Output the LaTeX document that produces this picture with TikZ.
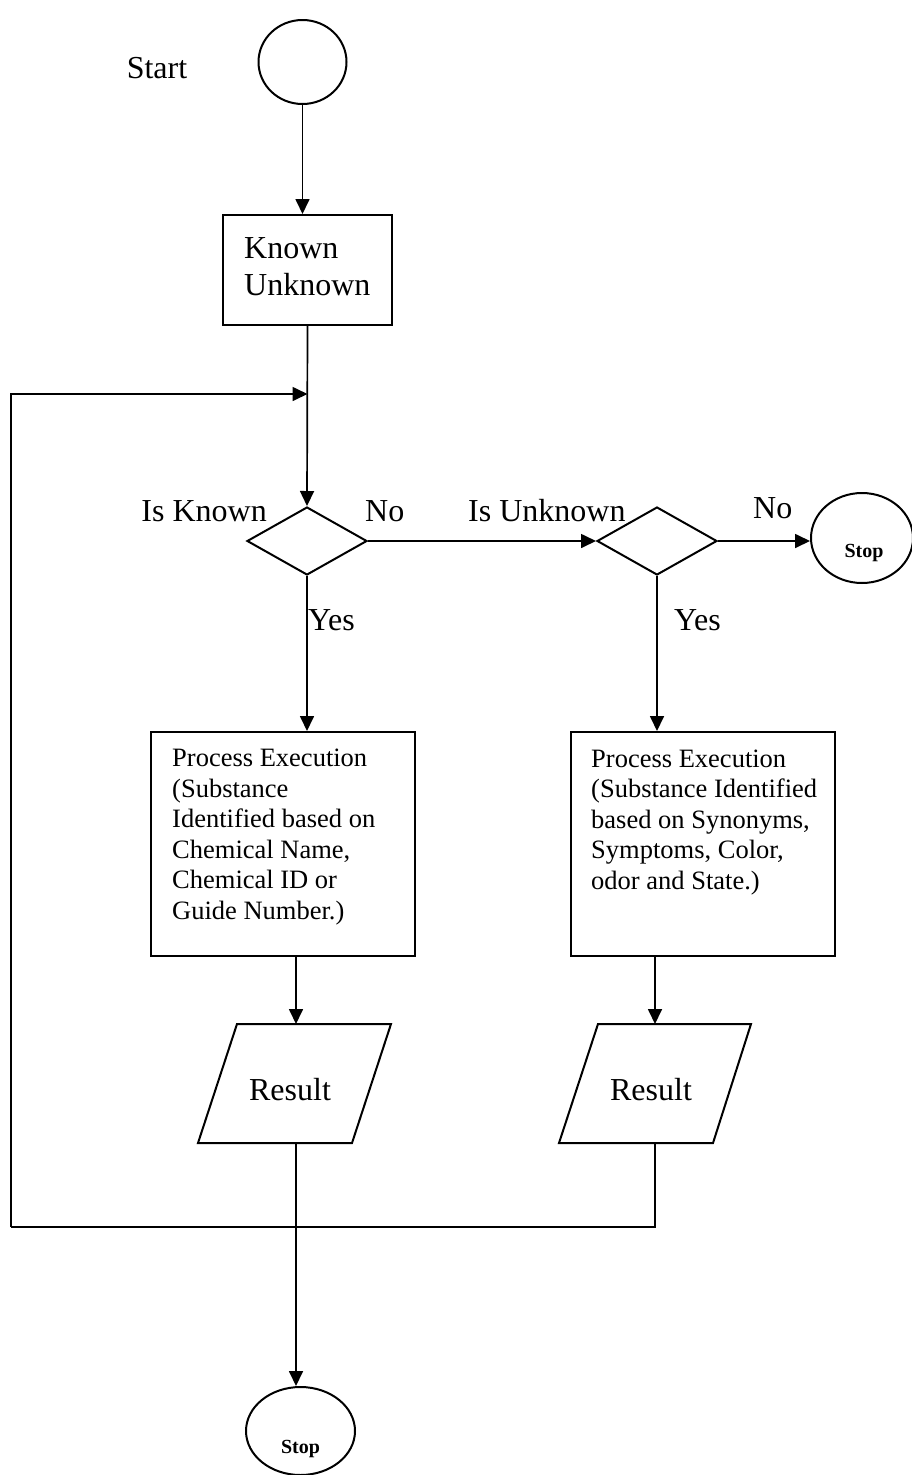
\documentclass[tikz,border=0pt]{standalone}
\usepackage{fontspec}
\setmainfont{Liberation Serif}
\usetikzlibrary{shapes.geometric,arrows.meta}
\begin{document}
\begin{tikzpicture}[x=1pt,y=-1pt,
  shapeline/.style={draw=black, line width=2pt},
  conn/.style={draw=black, line width=1.7pt},
  arr/.style={conn, -{Triangle[length=15pt,width=14pt]}},
  bigtext/.style={font=\fontsize{32}{37}\selectfont, inner sep=0pt},
  smalltext/.style={font=\fontsize{26.5}{30.5}\selectfont, inner sep=0pt, align=left},
  stoptext/.style={font=\fontsize{20}{22}\selectfont\bfseries, inner sep=0pt},
  terminal/.style={ellipse, shapeline, inner sep=0pt},
  decision/.style={diamond, shapeline, inner sep=0pt, minimum width=120pt, minimum height=68pt},
  box/.style={rectangle, shapeline, inner sep=0pt}]
\useasboundingbox (0,0) rectangle (911,1475);

% nodes
\node[terminal, minimum width=88pt, minimum height=84pt] (start) at (302.5,62) {};
\node[bigtext, anchor=base] (starttxt) at (157,78) {Start};

\node[box, minimum width=169pt, minimum height=110pt] (ku) at (307.5,270) {};
\node[bigtext, anchor=base west, align=left] (kutxt) at (244,295) {Known\\Unknown};

\node[decision] (d1) at (307,541) {};
\node[decision] (d2) at (657,541) {};
\node[bigtext, anchor=base east] (isknown) at (267,521) {Is Known};
\node[bigtext, anchor=base west] (no1) at (365,521) {No};
\node[bigtext, anchor=base west] (isunknown) at (468,521) {Is Unknown};
\node[bigtext, anchor=base west] (no2) at (753,518) {No};
\node[bigtext, anchor=base west] (yes1) at (308,630) {Yes};
\node[bigtext, anchor=base west] (yes2) at (674,630) {Yes};

\node[terminal, minimum width=102pt, minimum height=90pt] (stopr) at (862,538) {};
\node[stoptext, anchor=base] (stoprtxt) at (864,557) {Stop};

\node[box, minimum width=264pt, minimum height=224pt] (b1) at (283,844) {};
\node[box, minimum width=264pt, minimum height=224pt] (b2) at (703,844) {};
\node[smalltext, anchor=base west] (b1txt) at (172,919) {Process Execution\\(Substance\\Identified based on\\Chemical Name,\\Chemical ID or\\Guide Number.)};
\node[smalltext, anchor=base west] (b2txt) at (591,889) {Process Execution\\(Substance Identified\\based on Synonyms,\\Symptoms, Color,\\odor and State.)};

% result parallelograms
\draw[shapeline, line join=miter] (237,1024) -- (391,1024) -- (352,1143) -- (198,1143) -- cycle;
\draw[shapeline, line join=miter] (598,1024) -- (751,1024) -- (713,1143) -- (559,1143) -- cycle;
\node[bigtext, anchor=base] (r1txt) at (290,1100) {Result};
\node[bigtext, anchor=base] (r2txt) at (651,1100) {Result};
\coordinate (r1t) at (296,1024);
\coordinate (r1b) at (296,1143);
\coordinate (r2t) at (655,1024);
\coordinate (r2b) at (655,1143);

\node[terminal, minimum width=109pt, minimum height=88pt] (stopb) at (300.5,1431) {};
\node[stoptext, anchor=base] (stopbtxt) at (300.5,1453) {Stop};

\coordinate (loopl) at (11,1227);
\coordinate (join) at (307.5,394);

% connectors
\draw[arr] (start.south) -- (start.south |- ku.north);
\draw[arr] (ku.south) -- (d1.north);
\draw[arr] (loopl) |- (join);
\draw[conn] (r2b) |- (loopl);
\draw[arr] (d1.east) -- (d2.west);
\draw[arr] (d2.east) -- (d2.east -| stopr.west);
\draw[arr] (d1.south) -- (d1.south |- b1.north);
\draw[arr] (d2.south) -- (d2.south |- b2.north);
\draw[arr] (b1.south -| r1t) -- (r1t);
\draw[arr] (b2.south -| r2t) -- (r2t);
\draw[arr] (r1b) -- (r1b |- stopb.north);
\end{tikzpicture}
\end{document}
